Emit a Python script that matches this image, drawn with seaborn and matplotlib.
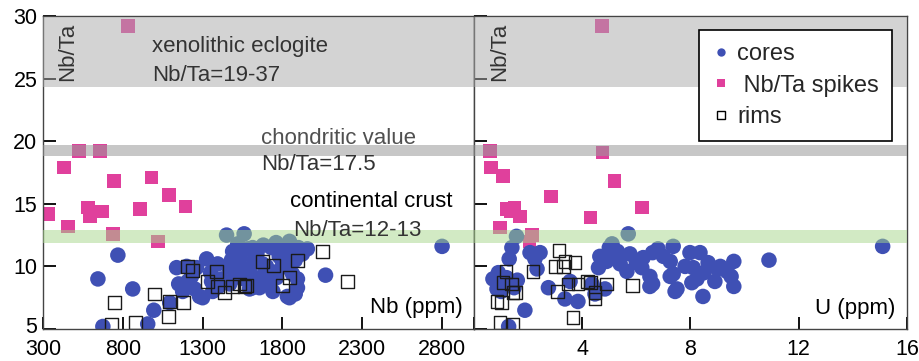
import numpy as np
import pandas as pd
import matplotlib
matplotlib.use("Agg")
import matplotlib.pyplot as plt
import matplotlib.transforms as mtransforms
import seaborn as sns
from matplotlib.lines import Line2D

# ---------------- data ----------------
# left panel: Nb (ppm) vs Nb/Ta
nb_spikes = [831, 431, 525, 656, 744, 981, 1088, 1194, 331, 456, 581, 594, 669, 906, 738, 1019]
nbta_spikes_l = [29.2, 17.9, 19.2, 19.2, 16.8, 17.1, 15.7, 14.8, 14.2, 13.2, 14.7, 14.0, 14.4, 14.6, 12.6, 12.0]

nb_cores = [644, 769, 862, 994, 956, 675, 1094, 1137, 1175, 1206, 1281, 1325, 1356, 1394,
            1450, 1560, 1488, 1531, 1613, 1594, 1500, 1613, 1675, 1738, 1763, 1800, 1844,
            1856, 1863, 1831, 1894, 1956, 2070, 2800, 1363, 1656, 1719, 1262, 1300, 1519,
            1594, 1769, 1844, 1894, 1656, 1581, 1731, 1925, 1420, 1460, 1540, 1560, 1620,
            1640, 1700, 1700, 1780, 1820, 1880, 1900, 1230, 1250, 1400, 1470, 1520, 1680,
            1760, 1800, 1480, 1660, 1740, 1880, 1150, 1200, 1350]
nbta_cores_l = [9.0, 10.9, 8.2, 6.5, 5.4, 5.2, 7.1, 9.9, 8.0, 8.8, 7.6, 10.6, 8.8, 10.2,
                12.5, 12.6, 11.2, 10.7, 11.5, 9.6, 9.1, 8.3, 10.2, 11.6, 9.1, 10.4, 12.0,
                11.1, 9.4, 7.6, 8.3, 11.4, 9.3, 11.6, 8.0, 9.1, 8.7, 9.9, 7.5, 9.6,
                8.2, 9.6, 7.5, 9.0, 8.3, 11.4, 11.5, 11.0, 9.0, 10.0, 10.0, 9.0, 10.5,
                11.0, 10.0, 9.5, 10.8, 10.0, 10.5, 11.5, 9.2, 8.2, 8.4, 8.6, 11.8, 11.7,
                11.9, 11.2, 10.5, 8.5, 8.0, 7.8, 8.6, 10.0, 9.5]

nb_rims = [750, 731, 881, 1000, 1088, 1181, 1206, 1238, 1331, 1388, 1394, 1438, 1488,
           1531, 1563, 1675, 1744, 1800, 1844, 1894, 2050, 2206, 1094, 1575]
nbta_rims_l = [7.1, 5.4, 5.5, 7.8, 6.0, 7.1, 10.0, 9.7, 8.8, 9.6, 8.4, 7.9, 8.4,
               8.6, 8.4, 10.4, 10.1, 8.5, 9.1, 10.5, 11.2, 8.8, 7.2, 8.5]

# right panel: U (ppm) vs Nb/Ta
u_spikes = [4.73, 0.6, 4.75, 0.62, 1.07, 5.2, 2.85, 1.2, 1.5, 1.7, 4.3, 6.2, 0.96, 2.15, 2.05, 1.35]
nbta_spikes_r = [29.2, 19.2, 19.1, 17.9, 17.2, 16.8, 15.6, 14.6, 14.7, 14.0, 13.9, 14.7, 13.1, 12.5, 12.0, 14.4]

u_cores = [1.57, 1.4, 1.3, 0.7, 0.85, 1.2, 1.48, 1.88, 1.28, 2.07, 2.44, 2.25, 2.33, 2.75,
           3.36, 3.55, 3.84, 4.36, 4.47, 4.84, 5.7, 5.1, 4.65, 4.6, 4.9, 5.3, 5.4, 5.76,
           5.65, 6.25, 6.6, 6.8, 6.5, 6.6, 7.36, 7.25, 7.36, 7.5, 7.98, 8.35, 8.1, 8.24,
           8.46, 8.65, 8.9, 9.1, 9.35, 9.6, 9.6, 9.5, 10.9, 15.1, 7.43, 6.5, 7.25, 8.05,
           5.0, 4.73, 0.9, 1.1, 1.0, 1.6, 5.2, 6.0, 6.2, 7.0, 8.5, 9.0, 7.8]
nbta_cores_r = [12.4, 11.5, 10.6, 9.0, 8.2, 9.1, 8.3, 6.5, 5.2, 11.1, 11.1, 10.6, 9.8, 8.3,
                7.4, 8.8, 7.2, 8.6, 7.8, 8.2, 12.6, 11.8, 10.8, 9.9, 10.4, 11.2, 10.2, 11.0,
                9.6, 10.7, 11.1, 11.4, 9.2, 8.6, 11.6, 10.4, 9.4, 8.2, 11.1, 11.1, 9.9, 9.0,
                7.6, 10.3, 8.8, 10.0, 9.6, 10.4, 8.4, 9.2, 10.5, 11.6, 8.0, 8.4, 9.2, 8.7,
                11.5, 10.6, 9.5, 8.7, 8.0, 8.9, 10.9, 10.3, 9.9, 10.8, 9.5, 9.8, 10.0]

u_rims = [3.14, 3.36, 3.0, 3.3, 3.73, 1.18, 1.07, 1.4, 1.52, 0.85, 1.03, 2.18, 3.47,
          3.84, 4.29, 4.47, 4.9, 3.1, 3.66, 0.96, 1.44, 5.87, 4.2, 4.47, 1.44]
nbta_rims_r = [11.3, 10.4, 10.0, 10.0, 10.3, 9.6, 8.7, 8.6, 7.9, 7.2, 7.1, 9.6, 8.6,
               8.6, 8.7, 7.9, 8.6, 8.0, 5.9, 5.5, 5.4, 8.5, 8.8, 7.4, 7.9]

nb_ticks = [300, 800, 1300, 1800, 2300, 2800]
u_ticks = [0, 4, 8, 12, 16]
u_tick_labels = ["", "4", "8", "12", "16"]
y_ticks = [5, 10, 15, 20, 25, 30]
legend_labels = ["cores", " Nb/Ta spikes", "rims"]

BLUE = "#3f50b4"
PINK = "#e0409c"

# ---------------- style ----------------
sns.set_style("ticks")
plt.rcParams["font.family"] = ["Liberation Sans", "DejaVu Sans"]

fig = plt.figure(figsize=(9.2, 3.61), dpi=100)
axL = fig.add_axes([43 / 920, 32 / 361, 431 / 920, 313 / 361])
axR = fig.add_axes([474 / 920, 32 / 361, 433 / 920, 313 / 361])


def draw(ax, xs, ys, xc, yc, xr, yr):
    sns.scatterplot(x=xs, y=ys, ax=ax, marker="s", s=95, color=PINK,
                    edgecolor="none", linewidth=0, zorder=2)
    sns.scatterplot(x=xc, y=yc, ax=ax, marker="o", s=125, color=BLUE,
                    edgecolor="none", linewidth=0, zorder=2)
    sns.scatterplot(x=xr, y=yr, ax=ax, marker="s", s=85, facecolor="none",
                    edgecolor="#1a1a1a", linewidth=1.0, zorder=2.5)
    ax.axhspan(24.35, 29.9, color="#a9a9a9", alpha=0.5, lw=0, zorder=3)
    ax.axhspan(18.85, 19.7, color="#9a9a9a", alpha=0.55, lw=0, zorder=3)
    ax.axhspan(11.9, 12.9, color="#a6d68a", alpha=0.5, lw=0, zorder=3)
    ax.set_ylim(5, 30)
    ax.set_yticks(y_ticks)
    ax.set_xlabel("")
    ax.set_ylabel("")
    for sp in ax.spines.values():
        sp.set_visible(True)
        sp.set_color("#444444")
        sp.set_linewidth(1.0)
    ax.tick_params(direction="in", length=9, width=1.4, color="#111111",
                   labelsize=15.5, labelcolor="black")
    ax.tick_params(axis="x", pad=7)
    ax.tick_params(axis="y", pad=4)
    ax.text(0.056 if ax is axL else 0.06, 0.885, "Nb/Ta", rotation=90,
            transform=ax.transAxes, ha="center", va="center", fontsize=16,
            color="#333333", zorder=5)


draw(axL, nb_spikes, nbta_spikes_l, nb_cores, nbta_cores_l, nb_rims, nbta_rims_l)
draw(axR, u_spikes, nbta_spikes_r, u_cores, nbta_cores_r, u_rims, nbta_rims_r)

axL.set_xlim(300, 3000)
axL.set_xticks(nb_ticks)
axL.set_xticklabels([str(t) for t in nb_ticks])
axL.set_yticklabels([str(v) for v in y_ticks])

axR.set_xlim(0, 16)
axR.set_xticks(u_ticks)
axR.set_xticklabels(u_tick_labels)
axR.tick_params(axis="y", labelleft=False)

# nudge the lowest y label up a little so it clears the "300" below it
lbl5 = axL.get_yticklabels()[0]
lbl5.set_transform(lbl5.get_transform() +
                   mtransforms.ScaledTranslation(0, 4 / 100, fig.dpi_scale_trans))

# annotations
t = axL.transAxes
axL.text(0.253, 0.901, "xenolithic eclogite", transform=t, fontsize=16,
         color="#333333", va="center", ha="left", zorder=5)
axL.text(0.253, 0.811, "Nb/Ta=19-37", transform=t, fontsize=16,
         color="#333333", va="center", ha="left", zorder=5)
axL.text(0.506, 0.610, "chondritic value", transform=t, fontsize=16,
         color="#505050", va="center", ha="left", zorder=5)
axL.text(0.506, 0.524, "Nb/Ta=17.5", transform=t, fontsize=16,
         color="#333333", va="center", ha="left", zorder=5)
axL.text(0.573, 0.406, "continental crust", transform=t, fontsize=16,
         color="black", va="center", ha="left", zorder=5)
axL.text(0.580, 0.316, "Nb/Ta=12-13", transform=t, fontsize=16,
         color="#333333", va="center", ha="left", zorder=5)
axL.text(0.974, 0.070, "Nb (ppm)", transform=t, fontsize=16,
         color="black", va="center", ha="right", zorder=5)
axR.text(0.972, 0.067, "U (ppm)", transform=axR.transAxes, fontsize=16,
         color="black", va="center", ha="right", zorder=5)

handles = [
    Line2D([], [], ls="", marker="o", markersize=6, color=BLUE, markeredgewidth=0),
    Line2D([], [], ls="", marker="s", markersize=5.5, color=PINK, markeredgewidth=0),
    Line2D([], [], ls="", marker="s", markersize=5.5, markerfacecolor="none",
           markeredgecolor="black", markeredgewidth=1.0),
]
leg = axR.legend(handles, legend_labels, loc="upper right",
                 bbox_to_anchor=(0.965, 0.955), fontsize=17, frameon=True,
                 fancybox=False, framealpha=1, edgecolor="black",
                 handlelength=0.7, handletextpad=0.35, labelspacing=0.4,
                 borderpad=0.55, borderaxespad=0)
leg.get_frame().set_linewidth(1.2)
leg.set_zorder(6)

fig.savefig("out.png", dpi=100)
